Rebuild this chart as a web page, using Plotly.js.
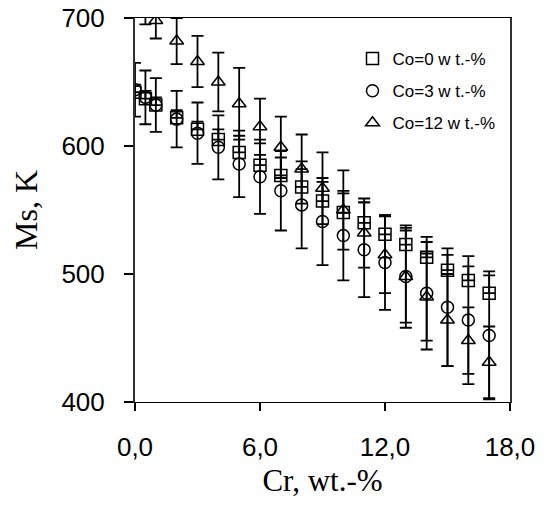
<!DOCTYPE html>
<html>
<head>
<meta charset="utf-8">
<script src="https://cdn.plot.ly/plotly-3.0.1.min.js"></script>
<style>html,body{margin:0;padding:0;background:#fff;}#chart{width:545px;height:506px;}</style>
</head>
<body>
<div id="chart"></div>
<script>
// Cr content, wt.-%
var cr = [0, 0.5, 1, 2, 3, 4, 5, 6, 7, 8, 9, 10, 11, 12, 13, 14, 15, 16, 17];

// Ms (K) for Co = 0 wt.-%
var msCo0 = [642, 637, 632, 622, 613, 605, 595, 585, 577, 568, 557, 548, 540, 531, 523, 513, 503, 495, 485];
var errCo0 = [6, 6, 6, 6, 6, 8, 13, 17, 14, 14, 15, 15, 16, 15, 13, 12, 12, 11, 14];
var errCo0Minus = [0, 0, 0, 0, 0, 0, 0, 0, 0, 0, 0, 0, 0, 0, 0, 0, 0, 0, 0];

// Ms (K) for Co = 3 wt.-%
var msCo3 = [644, 638, 632, 621, 610, 599, 586, 576, 565, 554, 541, 530, 519, 509, 498, 485, 474, 464, 452];
var errCo3 = [21, 21, 21, 22, 24, 25, 26, 29, 31, 34, 34, 35, 37, 37, 40, 44, 46, 50, 50];

// Ms (K) for Co = 12 wt.-%
var msCo12 = [716, 707, 698, 682, 666, 650, 633, 615, 599, 582, 567, 550, 532, 515, 498, 482, 464, 448, 431];
var errCo12 = [13, 12, 14, 18, 20, 23, 28, 22, 24, 27, 28, 31, 27, 30, 36, 34, 36, 26, 28];

var seriesNames = ['Co=0 w t.-%', 'Co=3 w t.-%', 'Co=12 w t.-%'];
var xTickVals = [0, 6, 12, 18];
var yTickVals = [400, 500, 600, 700];

var errStyle = {color: '#000', thickness: 1.8, width: 6};

function mk(sym) {
  return {symbol: sym, size: 12, color: '#000', line: {color: '#000', width: 1.5}};
}

var traces = [
  {x: cr, y: msCo0, name: seriesNames[0], mode: 'markers', type: 'scatter', legendgroup: 'a',
   marker: mk('square-open'),
   error_y: Object.assign({type: 'data', symmetric: false, array: errCo0, arrayminus: errCo0Minus}, errStyle)},
  {x: cr, y: msCo3, name: seriesNames[1], mode: 'markers', type: 'scatter', legendgroup: 'b',
   marker: mk('circle-open'),
   error_y: Object.assign({type: 'data', array: errCo3}, errStyle)},
  {x: cr, y: msCo12, name: seriesNames[2], mode: 'markers', type: 'scatter', legendgroup: 'c',
   marker: mk('triangle-up-open'),
   error_y: Object.assign({type: 'data', array: errCo12}, errStyle)}
];

var layout = {
  width: 545, height: 506,
  margin: {l: 135, r: 35, t: 17.5, b: 104},
  paper_bgcolor: '#fff', plot_bgcolor: '#fff',
  separators: ',.',
  font: {family: 'Arial, "Liberation Sans", sans-serif', color: '#000'},
  xaxis: {
    range: [0, 18], tickvals: xTickVals, tickformat: '.1f',
    ticks: 'outside', ticklen: 8, tickwidth: 1.3, tickcolor: '#000',
    showline: true, linecolor: '#000', linewidth: 1.3, mirror: true,
    showgrid: false, zeroline: false,
    tickfont: {size: 26, family: 'Arial, "Liberation Sans", sans-serif'},
    ticklabelstandoff: 13,
    title: {text: 'Cr, wt.-%', font: {family: '"Times New Roman", "Liberation Serif", serif', size: 31}, standoff: 8}
  },
  yaxis: {
    range: [400, 700], tickvals: yTickVals,
    ticks: 'outside', ticklen: 9, tickwidth: 1.3, tickcolor: '#000',
    showline: true, linecolor: '#333', linewidth: 2, mirror: true,
    showgrid: false, zeroline: false,
    tickfont: {size: 26, family: 'Arial, "Liberation Sans", sans-serif'},
    ticklabelstandoff: 14,
    title: {text: 'Ms, K', font: {family: '"Times New Roman", "Liberation Serif", serif', size: 32}, standoff: 14}
  },
  showlegend: true,
  legend: {
    x: 0.58, xanchor: 'left', y: 0.94, yanchor: 'top',
    bgcolor: 'rgba(0,0,0,0)', borderwidth: 0,
    font: {size: 17, family: 'Arial, "Liberation Sans", sans-serif', color: '#000'},
    traceorder: 'grouped', tracegroupgap: 7, itemwidth: 30
  }
};

Plotly.newPlot('chart', traces, layout, {displayModeBar: false, staticPlot: true});
</script>
</body>
</html>
